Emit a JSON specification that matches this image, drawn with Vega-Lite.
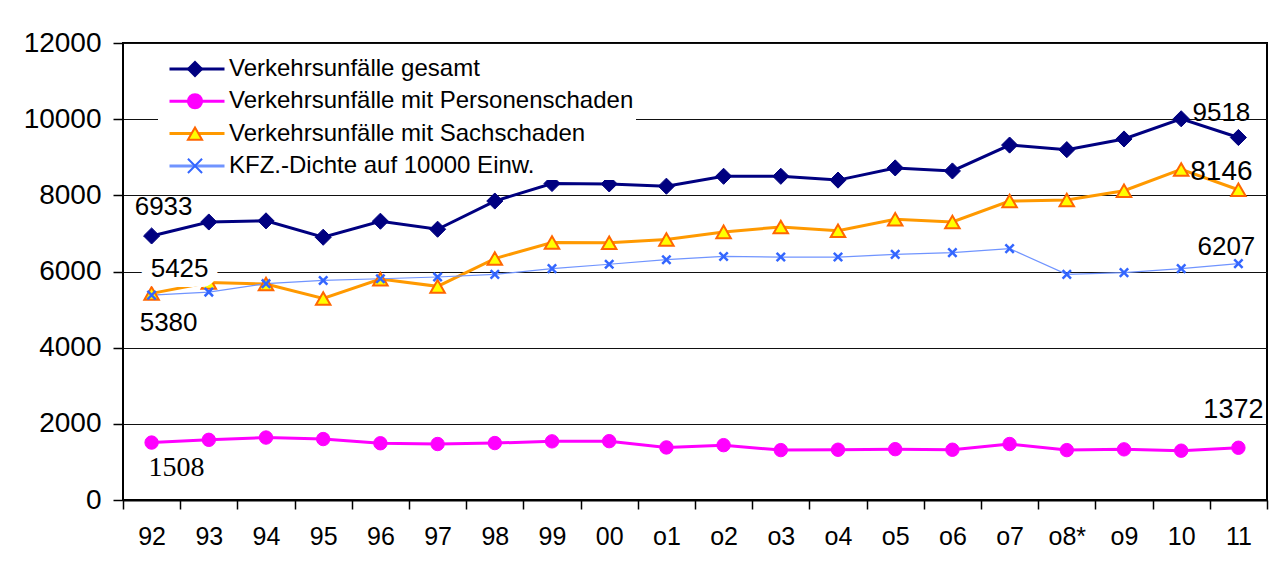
{
  "$schema": "https://vega.github.io/schema/vega-lite/v6.json",
  "width": 1144,
  "height": 457,
  "autosize": {"type": "none"},
  "padding": {"left": 123, "top": 43, "right": 12, "bottom": 72},
  "background": "white",
  "config": {
    "font": "Liberation Sans",
    "view": {"stroke": "black", "strokeWidth": 2},
    "axis": {"labelFont": "Liberation Sans", "labelColor": "black", "tickColor": "black", "domainColor": "black"}
  },
  "data": {"values": [
    {"jahr": "92", "serie": "Verkehrsunfälle gesamt", "wert": 6933},
    {"jahr": "93", "serie": "Verkehrsunfälle gesamt", "wert": 7300},
    {"jahr": "94", "serie": "Verkehrsunfälle gesamt", "wert": 7330},
    {"jahr": "95", "serie": "Verkehrsunfälle gesamt", "wert": 6900},
    {"jahr": "96", "serie": "Verkehrsunfälle gesamt", "wert": 7320},
    {"jahr": "97", "serie": "Verkehrsunfälle gesamt", "wert": 7110},
    {"jahr": "98", "serie": "Verkehrsunfälle gesamt", "wert": 7850},
    {"jahr": "99", "serie": "Verkehrsunfälle gesamt", "wert": 8310},
    {"jahr": "00", "serie": "Verkehrsunfälle gesamt", "wert": 8300},
    {"jahr": "o1", "serie": "Verkehrsunfälle gesamt", "wert": 8240},
    {"jahr": "o2", "serie": "Verkehrsunfälle gesamt", "wert": 8500},
    {"jahr": "o3", "serie": "Verkehrsunfälle gesamt", "wert": 8500},
    {"jahr": "o4", "serie": "Verkehrsunfälle gesamt", "wert": 8400},
    {"jahr": "o5", "serie": "Verkehrsunfälle gesamt", "wert": 8720},
    {"jahr": "o6", "serie": "Verkehrsunfälle gesamt", "wert": 8640},
    {"jahr": "o7", "serie": "Verkehrsunfälle gesamt", "wert": 9320},
    {"jahr": "o8*", "serie": "Verkehrsunfälle gesamt", "wert": 9200},
    {"jahr": "o9", "serie": "Verkehrsunfälle gesamt", "wert": 9480},
    {"jahr": "10", "serie": "Verkehrsunfälle gesamt", "wert": 10010},
    {"jahr": "11", "serie": "Verkehrsunfälle gesamt", "wert": 9518},
    {"jahr": "92", "serie": "Verkehrsunfälle mit Personenschaden", "wert": 1508},
    {"jahr": "93", "serie": "Verkehrsunfälle mit Personenschaden", "wert": 1580},
    {"jahr": "94", "serie": "Verkehrsunfälle mit Personenschaden", "wert": 1640},
    {"jahr": "95", "serie": "Verkehrsunfälle mit Personenschaden", "wert": 1600},
    {"jahr": "96", "serie": "Verkehrsunfälle mit Personenschaden", "wert": 1490},
    {"jahr": "97", "serie": "Verkehrsunfälle mit Personenschaden", "wert": 1470},
    {"jahr": "98", "serie": "Verkehrsunfälle mit Personenschaden", "wert": 1495},
    {"jahr": "99", "serie": "Verkehrsunfälle mit Personenschaden", "wert": 1540},
    {"jahr": "00", "serie": "Verkehrsunfälle mit Personenschaden", "wert": 1545},
    {"jahr": "o1", "serie": "Verkehrsunfälle mit Personenschaden", "wert": 1380},
    {"jahr": "o2", "serie": "Verkehrsunfälle mit Personenschaden", "wert": 1440},
    {"jahr": "o3", "serie": "Verkehrsunfälle mit Personenschaden", "wert": 1310},
    {"jahr": "o4", "serie": "Verkehrsunfälle mit Personenschaden", "wert": 1320},
    {"jahr": "o5", "serie": "Verkehrsunfälle mit Personenschaden", "wert": 1335},
    {"jahr": "o6", "serie": "Verkehrsunfälle mit Personenschaden", "wert": 1320},
    {"jahr": "o7", "serie": "Verkehrsunfälle mit Personenschaden", "wert": 1470},
    {"jahr": "o8*", "serie": "Verkehrsunfälle mit Personenschaden", "wert": 1310},
    {"jahr": "o9", "serie": "Verkehrsunfälle mit Personenschaden", "wert": 1330},
    {"jahr": "10", "serie": "Verkehrsunfälle mit Personenschaden", "wert": 1295},
    {"jahr": "11", "serie": "Verkehrsunfälle mit Personenschaden", "wert": 1372},
    {"jahr": "92", "serie": "Verkehrsunfälle mit Sachschaden", "wert": 5425},
    {"jahr": "93", "serie": "Verkehrsunfälle mit Sachschaden", "wert": 5710},
    {"jahr": "94", "serie": "Verkehrsunfälle mit Sachschaden", "wert": 5670},
    {"jahr": "95", "serie": "Verkehrsunfälle mit Sachschaden", "wert": 5290},
    {"jahr": "96", "serie": "Verkehrsunfälle mit Sachschaden", "wert": 5800},
    {"jahr": "97", "serie": "Verkehrsunfälle mit Sachschaden", "wert": 5610},
    {"jahr": "98", "serie": "Verkehrsunfälle mit Sachschaden", "wert": 6340},
    {"jahr": "99", "serie": "Verkehrsunfälle mit Sachschaden", "wert": 6760},
    {"jahr": "00", "serie": "Verkehrsunfälle mit Sachschaden", "wert": 6755},
    {"jahr": "o1", "serie": "Verkehrsunfälle mit Sachschaden", "wert": 6840},
    {"jahr": "o2", "serie": "Verkehrsunfälle mit Sachschaden", "wert": 7040},
    {"jahr": "o3", "serie": "Verkehrsunfälle mit Sachschaden", "wert": 7170},
    {"jahr": "o4", "serie": "Verkehrsunfälle mit Sachschaden", "wert": 7070},
    {"jahr": "o5", "serie": "Verkehrsunfälle mit Sachschaden", "wert": 7370},
    {"jahr": "o6", "serie": "Verkehrsunfälle mit Sachschaden", "wert": 7300},
    {"jahr": "o7", "serie": "Verkehrsunfälle mit Sachschaden", "wert": 7850},
    {"jahr": "o8*", "serie": "Verkehrsunfälle mit Sachschaden", "wert": 7880},
    {"jahr": "o9", "serie": "Verkehrsunfälle mit Sachschaden", "wert": 8120},
    {"jahr": "10", "serie": "Verkehrsunfälle mit Sachschaden", "wert": 8680},
    {"jahr": "11", "serie": "Verkehrsunfälle mit Sachschaden", "wert": 8146},
    {"jahr": "92", "serie": "KFZ.-Dichte auf 10000 Einw.", "wert": 5380},
    {"jahr": "93", "serie": "KFZ.-Dichte auf 10000 Einw.", "wert": 5460},
    {"jahr": "94", "serie": "KFZ.-Dichte auf 10000 Einw.", "wert": 5680},
    {"jahr": "95", "serie": "KFZ.-Dichte auf 10000 Einw.", "wert": 5765},
    {"jahr": "96", "serie": "KFZ.-Dichte auf 10000 Einw.", "wert": 5810},
    {"jahr": "97", "serie": "KFZ.-Dichte auf 10000 Einw.", "wert": 5855},
    {"jahr": "98", "serie": "KFZ.-Dichte auf 10000 Einw.", "wert": 5925},
    {"jahr": "99", "serie": "KFZ.-Dichte auf 10000 Einw.", "wert": 6075},
    {"jahr": "00", "serie": "KFZ.-Dichte auf 10000 Einw.", "wert": 6190},
    {"jahr": "o1", "serie": "KFZ.-Dichte auf 10000 Einw.", "wert": 6310},
    {"jahr": "o2", "serie": "KFZ.-Dichte auf 10000 Einw.", "wert": 6395},
    {"jahr": "o3", "serie": "KFZ.-Dichte auf 10000 Einw.", "wert": 6380},
    {"jahr": "o4", "serie": "KFZ.-Dichte auf 10000 Einw.", "wert": 6380},
    {"jahr": "o5", "serie": "KFZ.-Dichte auf 10000 Einw.", "wert": 6450},
    {"jahr": "o6", "serie": "KFZ.-Dichte auf 10000 Einw.", "wert": 6495},
    {"jahr": "o7", "serie": "KFZ.-Dichte auf 10000 Einw.", "wert": 6600},
    {"jahr": "o8*", "serie": "KFZ.-Dichte auf 10000 Einw.", "wert": 5925},
    {"jahr": "o9", "serie": "KFZ.-Dichte auf 10000 Einw.", "wert": 5970},
    {"jahr": "10", "serie": "KFZ.-Dichte auf 10000 Einw.", "wert": 6075},
    {"jahr": "11", "serie": "KFZ.-Dichte auf 10000 Einw.", "wert": 6207}
  ]},
  "encoding": {
    "x": {
      "field": "jahr", "type": "ordinal",
      "scale": {"type": "band", "domain": ["92","93","94","95","96","97","98","99","00","o1","o2","o3","o4","o5","o6","o7","o8*","o9","10","11"], "paddingInner": 0, "paddingOuter": 0},
      "axis": {"title": null, "labelAngle": 0, "tickBand": "extent", "tickSize": 9, "tickWidth": 1.5, "labelFontSize": 25, "labelPadding": 15, "domainWidth": 2, "grid": false}
    },
    "y": {
      "field": "wert", "type": "quantitative",
      "scale": {"domain": [0, 12000], "nice": false},
      "axis": {"title": null, "values": [0,2000,4000,6000,8000,10000,12000], "tickSize": 10, "tickWidth": 1.5, "labelFontSize": 28, "labelPadding": 12, "grid": true, "gridColor": "#111111", "gridWidth": 1, "domain": false, "format": "d"}
    }
  },
  "layer": [
    {
      "transform": [{"filter": "datum.serie !== 'KFZ.-Dichte auf 10000 Einw.'"}],
      "mark": {"type": "line", "strokeWidth": 3},
      "encoding": {
        "color": {
          "field": "serie", "type": "nominal",
          "scale": {"domain": ["Verkehrsunfälle gesamt","Verkehrsunfälle mit Personenschaden","Verkehrsunfälle mit Sachschaden","KFZ.-Dichte auf 10000 Einw."], "range": ["#000080","#FF00FF","#FF9900","#7094FF"]},
          "legend": {"title": null, "orient": "none", "legendX": 35, "legendY": 12, "fillColor": "white", "padding": 2, "symbolType": "M-5,0L5,0", "symbolSize": 121, "symbolStrokeWidth": 3, "symbolOffset": 25, "labelOffset": 20, "labelFontSize": 24, "labelLimit": 600, "labelFont": "Liberation Sans", "labelColor": "black", "rowPadding": 8.3, "zindex": 1}
        }
      }
    },
    {
      "transform": [{"filter": "datum.serie === 'KFZ.-Dichte auf 10000 Einw.'"}],
      "mark": {"type": "line", "strokeWidth": 1.2},
      "encoding": {
        "color": {
          "field": "serie", "type": "nominal",
          "scale": {"domain": ["Verkehrsunfälle gesamt","Verkehrsunfälle mit Personenschaden","Verkehrsunfälle mit Sachschaden","KFZ.-Dichte auf 10000 Einw."], "range": ["#000080","#FF00FF","#FF9900","#7094FF"]},
          "legend": {"title": null, "orient": "none", "legendX": 35, "legendY": 12, "fillColor": "white", "padding": 2, "symbolType": "M-5,0L5,0", "symbolSize": 121, "symbolStrokeWidth": 3, "symbolOffset": 25, "labelOffset": 20, "labelFontSize": 24, "labelLimit": 600, "labelFont": "Liberation Sans", "labelColor": "black", "rowPadding": 8.3, "zindex": 1}
        }
      }
    },
    {
      "encoding": {
        "shape": {"field": "serie", "type": "nominal",
          "scale": {"domain": ["Verkehrsunfälle gesamt","Verkehrsunfälle mit Personenschaden","Verkehrsunfälle mit Sachschaden","KFZ.-Dichte auf 10000 Einw."], "range": ["diamond","circle","triangle-up","M-1,-1L1,1M-1,1L1,-1"]},
          "legend": {"title": null, "orient": "top-left", "offset": 12, "padding": 2, "symbolOffset": 46, "labelOffset": 10, "labelFontSize": 24, "labelLimit": 600, "labelFont": "Liberation Sans", "labelColor": "transparent", "rowPadding": 8.3, "zindex": 2, "symbolStrokeWidth": 2, "symbolSize": 200}},
        "fill": {"field": "serie", "type": "nominal",
          "scale": {"domain": ["Verkehrsunfälle gesamt","Verkehrsunfälle mit Personenschaden","Verkehrsunfälle mit Sachschaden","KFZ.-Dichte auf 10000 Einw."], "range": ["#000080","#FF00FF","#FFFF00","transparent"]},
          "legend": null},
        "stroke": {"field": "serie", "type": "nominal",
          "scale": {"domain": ["Verkehrsunfälle gesamt","Verkehrsunfälle mit Personenschaden","Verkehrsunfälle mit Sachschaden","KFZ.-Dichte auf 10000 Einw."], "range": ["#000080","#FF00FF","#FF6600","#3366FF"]},
          "legend": null}
      },
      "layer": [
        {"transform": [{"filter": "datum.serie === 'Verkehrsunfälle gesamt'"}], "mark": {"type": "point", "size": 260, "strokeWidth": 1, "opacity": 1}},
        {"transform": [{"filter": "datum.serie === 'Verkehrsunfälle mit Personenschaden'"}], "mark": {"type": "point", "size": 180, "strokeWidth": 1, "opacity": 1}},
        {"transform": [{"filter": "datum.serie === 'Verkehrsunfälle mit Sachschaden'"}], "mark": {"type": "point", "size": 210, "strokeWidth": 2, "opacity": 1}},
        {"transform": [{"filter": "datum.serie === 'KFZ.-Dichte auf 10000 Einw.'"}], "mark": {"type": "point", "size": 70, "strokeWidth": 2.5, "opacity": 1}}
      ]
    },
    {
      "encoding": {"text": {"field": "wert", "type": "quantitative", "format": "d"}},
      "layer": [
        {"transform": [{"filter": "datum.serie === 'Verkehrsunfälle gesamt' && datum.jahr === '92'"}], "mark": {"type": "text", "font": "Liberation Sans", "fontSize": 26, "dx": 12, "dy": -29, "color": "black"}},
        {"transform": [{"filter": "datum.serie === 'Verkehrsunfälle mit Sachschaden' && datum.jahr === '92'"}], "mark": {"type": "text", "font": "Liberation Sans", "fontSize": 26, "dx": 28, "dy": -24, "stroke": "white", "strokeWidth": 20, "strokeJoin": "round", "color": "white"}},
        {"transform": [{"filter": "datum.serie === 'Verkehrsunfälle mit Sachschaden' && datum.jahr === '92'"}], "mark": {"type": "text", "font": "Liberation Sans", "fontSize": 26, "dx": 28, "dy": -24, "color": "black"}},
        {"transform": [{"filter": "datum.serie === 'KFZ.-Dichte auf 10000 Einw.' && datum.jahr === '92'"}], "mark": {"type": "text", "font": "Liberation Sans", "fontSize": 26, "dx": 17, "dy": 28, "color": "black"}},
        {"transform": [{"filter": "datum.serie === 'Verkehrsunfälle mit Personenschaden' && datum.jahr === '92'"}], "mark": {"type": "text", "font": "Times New Roman, Liberation Serif, serif", "fontSize": 28, "dx": 25, "dy": 25, "color": "black"}},
        {"transform": [{"filter": "datum.serie === 'Verkehrsunfälle gesamt' && datum.jahr === '11'"}], "mark": {"type": "text", "font": "Liberation Sans", "fontSize": 26, "dx": -17, "dy": -25, "color": "black"}},
        {"transform": [{"filter": "datum.serie === 'Verkehrsunfälle mit Sachschaden' && datum.jahr === '11'"}], "mark": {"type": "text", "font": "Liberation Sans", "fontSize": 28, "dx": -17, "dy": -18, "color": "black"}},
        {"transform": [{"filter": "datum.serie === 'KFZ.-Dichte auf 10000 Einw.' && datum.jahr === '11'"}], "mark": {"type": "text", "font": "Liberation Sans", "fontSize": 26, "dx": -12, "dy": -17, "color": "black"}},
        {"transform": [{"filter": "datum.serie === 'Verkehrsunfälle mit Personenschaden' && datum.jahr === '11'"}], "mark": {"type": "text", "font": "Liberation Sans", "fontSize": 27, "dx": -5, "dy": -38, "color": "black"}}
      ]
    }
  ]
}
